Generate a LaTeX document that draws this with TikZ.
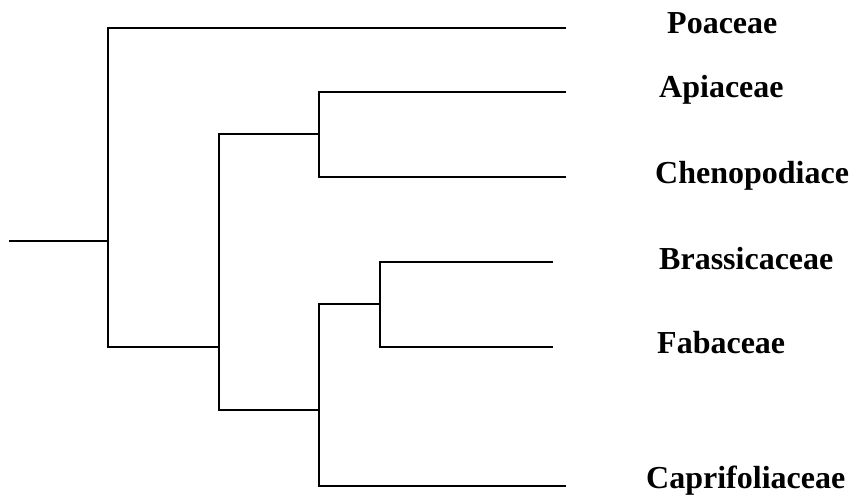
\documentclass[tikz,border=0pt]{standalone}
\usepackage{fontspec}
\setmainfont{Liberation Serif}
\usetikzlibrary{positioning}

\tikzset{
  taxon/.style={anchor=base west,inner sep=0pt,font=\fontsize{32}{36}\selectfont\bfseries},
  branch/.style={line width=1.3pt}
}

\begin{document}
\begin{tikzpicture}[x=1pt,y=-1pt]
  \useasboundingbox (0,0) rectangle (851,496);
  % leaf tips
  \coordinate (tPoa) at (566,28);
  \coordinate (tApi) at (566,92);
  \coordinate (tChe) at (566,177);
  \coordinate (tBra) at (553,262);
  \coordinate (tFab) at (553,347);
  \coordinate (tCap) at (566,486);
  % inner nodes
  \coordinate (root) at (9,241);
  \coordinate (j1) at (108,241);
  \coordinate (j2) at (219,347);
  \coordinate (jA) at (319,134);
  \coordinate (jC) at (319,410);
  \coordinate (jB) at (380,304);
  % taxa
  \node[taxon] (poa) at (667,33) {Poaceae};
  \node[taxon] (api) at (659,97) {Apiaceae};
  \node[taxon] (che) at (655,183) {Chenopodiace};
  \node[taxon] (bra) at (659,269) {Brassicaceae};
  \node[taxon] (fab) at (657,353) {Fabaceae};
  \node[taxon] (cap) at (646,488) {Caprifoliaceae};
  % tree
  \draw[branch] (root) -- (j1);
  \draw[branch] (tPoa) -| (j1) |- (j2);
  \draw[branch] (jA) -| (j2) |- (jC);
  \draw[branch] (tApi) -| (jA) |- (tChe);
  \draw[branch] (jB) -| (jC) |- (tCap);
  \draw[branch] (tBra) -| (jB) |- (tFab);
\end{tikzpicture}
\end{document}
